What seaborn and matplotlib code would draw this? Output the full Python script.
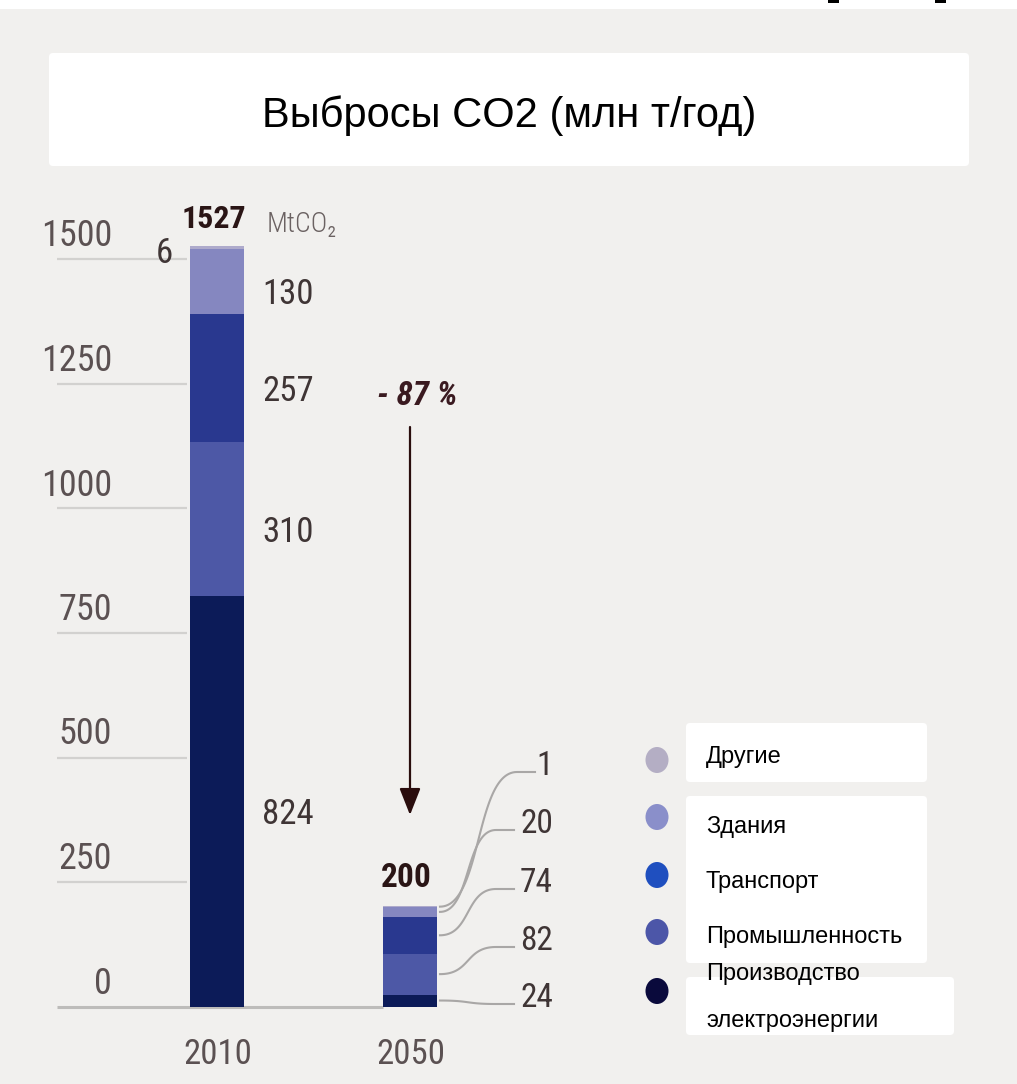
import numpy as np
import pandas as pd
import matplotlib
matplotlib.use("Agg")
import matplotlib.pyplot as plt
import matplotlib.transforms as mtransforms
from matplotlib.patches import FancyBboxPatch, Ellipse, FancyArrowPatch, Rectangle
import seaborn as sns

# ---------------- data ----------------
years = ["2010", "2050"]
# stacking order, bottom -> top
sectors = ["Производство электроэнергии", "Промышленность", "Транспорт", "Здания", "Другие"]
emissions_2010 = [824, 310, 257, 130, 6]
emissions_2050 = [24, 82, 74, 20, 1]
total_labels = ["1527", "200"]
y_ticks = [0, 250, 500, 750, 1000, 1250, 1500]
change_label = "- 87 %"
unit_label = "MtCO₂"
title = "Выбросы CO2 (млн т/год)"
legend_labels = ["Другие", "Здания", "Транспорт", "Промышленность",
                 "Производство\nэлектроэнергии"]

bar_colors = ["#0c1b58", "#4d58a6", "#29388f", "#8587c0", "#aeaacb"]
legend_colors = ["#b4aec4", "#8a8fca", "#1f4fbf", "#4c56a8", "#0a0a3c"]

# ---------------- geometry ----------------
W, H = 1017, 1084
X0_PX, UX = 217.0, 193.0      # pixel of first category, pixels per category
Y0_PX, UY = 1006.5, 0.498     # pixel of zero, pixels per tonne unit
BAR_W = 0.28

NUM_FONT = ["Roboto Condensed", "Liberation Sans Narrow", "DejaVu Sans Condensed", "DejaVu Sans"]
TXT_FONT = ["Liberation Sans", "DejaVu Sans"]
BG = "#f1f0ee"
TICK_C = "#5b5152"
VAL_C = "#3f3535"
DARK_C = "#2a1515"


def px2data(px, py):
    return (px - X0_PX) / UX, (Y0_PX - py) / UY


fig = plt.figure(figsize=(W / 100, H / 100), dpi=100, facecolor=BG)
ax = fig.add_axes([0, 0, 1, 1])
ax.patch.set_alpha(0)

# pixel (top-left origin) transform for the decorative layer
pix = mtransforms.Affine2D().scale(1 / W, -1 / H).translate(0, 1) + fig.transFigure

# ---------------- stacked bars ----------------
records = []
for yr, vals in zip(years, [emissions_2010, emissions_2050]):
    for sec, v in zip(sectors, vals):
        records.append({"year": yr, "sector": sec, "value": v})
df = pd.DataFrame(records)
df["top"] = df.groupby("year")["value"].cumsum()
df["center"] = df["top"] - df["value"] / 2

# draw from the top layer down so every lower layer covers the one above
for i in reversed(range(len(sectors))):
    layer = df[df["sector"] == sectors[i]]
    sns.barplot(data=layer, x="year", y="top", order=years, color=bar_colors[i],
                saturation=1, width=BAR_W, errorbar=None, linewidth=0, ax=ax)

ax.set_xlim(-X0_PX / UX, (W - X0_PX) / UX)
ax.set_ylim(-(H - Y0_PX) / UY, Y0_PX / UY)
ax.axis("off")

# ---------------- y grid & tick labels ----------------
gx0 = px2data(57, 0)[0]
gx1 = px2data(187, 0)[0]
base_x1 = px2data(383, 0)[0]
for t in y_ticks:
    ax.plot([gx0, base_x1 if t == 0 else gx1], [t, t],
            color="#bdbcba" if t == 0 else "#d2d1cf",
            lw=2.2 if t == 0 else 1.6, solid_capstyle="butt", zorder=0.5)
    ax.annotate(str(t), xy=(px2data(112, 0)[0], t), xytext=(0, 13),
                textcoords="offset pixels", ha="right", va="baseline",
                fontsize=26, color=TICK_C, family=NUM_FONT)

# ---------------- x labels ----------------
for i, yr in enumerate(years):
    ax.annotate(yr, xy=(i, 0), xytext=(1, -58), textcoords="offset pixels",
                ha="center", va="baseline", fontsize=25,
                color=TICK_C, family=NUM_FONT)

# ---------------- 2010 labels ----------------
d10 = df[df["year"] == years[0]].reset_index(drop=True)
for j in range(4):
    row = d10.loc[j]
    ax.annotate(str(row["value"]), xy=(0, row["center"]), xytext=(45, -23),
                textcoords="offset pixels", ha="left", va="baseline",
                fontsize=25, color=VAL_C, family=NUM_FONT)
row = d10.loc[4]
ax.annotate(str(row["value"]), xy=(0, row["center"]), xytext=(-53, -15),
            textcoords="offset pixels", ha="center", va="baseline",
            fontsize=25, color=VAL_C, family=NUM_FONT)
top10 = d10["top"].iloc[-1]
ax.annotate(total_labels[0], xy=(0, top10), xytext=(-3, 18), textcoords="offset pixels",
            ha="center", va="baseline", fontsize=23, fontweight="bold",
            color=DARK_C, family=NUM_FONT)
ax.annotate(unit_label, xy=(0, top10), xytext=(50, 14), textcoords="offset pixels",
            ha="left", va="baseline", fontsize=20, fontweight="light",
            color="#6b6262", family=NUM_FONT)

# ---------------- 2050 labels with leader lines ----------------
d50 = df[df["year"] == years[1]].reset_index(drop=True)
top50 = d50["top"].iloc[-1]
ax.annotate(total_labels[1], xy=(1, top50), xytext=(-4, 19), textcoords="offset pixels",
            ha="center", va="baseline", fontsize=24, fontweight="bold",
            color=DARK_C, family=NUM_FONT)

label_base_px = [1007, 950, 892, 833, 775]   # baseline of each side label (bottom -> top)
leader_end_px = [514, 514, 514, 514, 535]
t = np.linspace(0, 1, 60)
for j in range(len(sectors)):
    row = d50.loc[j]
    x_start = 440.0
    y_start = Y0_PX - row["center"] * UY
    x_end = leader_end_px[j]
    y_end = label_base_px[j] - 3
    x_bend = x_end - 18
    dx = x_bend - x_start
    # cubic Bezier with horizontal tangents at both ends
    p0, p1 = np.array([x_start, y_start]), np.array([x_start + 0.55 * dx, y_start])
    p2, p3 = np.array([x_bend - 0.55 * dx, y_end]), np.array([x_bend, y_end])
    curve = ((1 - t) ** 3)[:, None] * p0 + (3 * (1 - t) ** 2 * t)[:, None] * p1 \
        + (3 * (1 - t) * t ** 2)[:, None] * p2 + (t ** 3)[:, None] * p3
    curve = np.vstack([curve, [x_end, y_end]])
    cx = (curve[:, 0] - X0_PX) / UX
    cy = (Y0_PX - curve[:, 1]) / UY
    ax.plot(cx, cy, color="#a9a7a6", lw=1.5, zorder=1)
    lx, ly = px2data(553, label_base_px[j])
    ax.text(lx, ly, str(row["value"]), ha="right", va="baseline", fontsize=24,
            color=VAL_C, family=NUM_FONT)

# ---------------- reduction arrow ----------------
a_start = px2data(410, 427)
a_end = px2data(410, 815)
ax.add_patch(FancyArrowPatch(a_start, a_end,
                             arrowstyle="-|>,head_length=16.5,head_width=6.5",
                             mutation_scale=1, color="#2a0d0d", lw=1.6,
                             shrinkA=0, shrinkB=0, zorder=3))
ax.annotate(change_label, xy=a_start, xytext=(7, 22), textcoords="offset pixels",
            ha="center", va="baseline", fontsize=24, fontweight="bold",
            fontstyle="italic", color="#3a1a20", family=NUM_FONT)

# ---------------- title panel ----------------
fig.add_artist(Rectangle((0, 0), W, 9, transform=pix, facecolor="white",
                         edgecolor="none", zorder=1))
for bx in (828, 935):
    fig.add_artist(Rectangle((bx, 0), 11, 3, transform=pix, facecolor="black",
                             edgecolor="none", zorder=2))
fig.add_artist(FancyBboxPatch((49, 53), 920, 113, boxstyle="round,pad=0,rounding_size=4",
                              transform=pix, facecolor="white", edgecolor="none", zorder=1))
fig.text(509, 127, title, transform=pix, ha="center", va="baseline",
         fontsize=30, color="black", family=TXT_FONT, zorder=3)

# ---------------- legend ----------------
for (bx, by, bw, bh) in [(686, 723, 241, 59), (686, 796, 241, 167), (686, 977, 268, 58)]:
    fig.add_artist(FancyBboxPatch((bx, by), bw, bh, boxstyle="round,pad=0,rounding_size=4",
                                  transform=pix, facecolor="white", edgecolor="none", zorder=1))
dot_y = [760, 817, 875, 932, 991]
text_base = [763, 833, 888, 943, 980]
for k, (lab, col) in enumerate(zip(legend_labels, legend_colors)):
    fig.add_artist(Ellipse((657, dot_y[k]), 23, 26, transform=pix, facecolor=col,
                           edgecolor="none", zorder=2))
    lines = lab.split("\n")
    for m, ln in enumerate(lines):
        fig.text(706, text_base[k] + 47 * m, ln, transform=pix, ha="left",
                 va="baseline", fontsize=17, color="black", family=TXT_FONT, zorder=3)

fig.savefig("out.png", dpi=100, facecolor=BG)
